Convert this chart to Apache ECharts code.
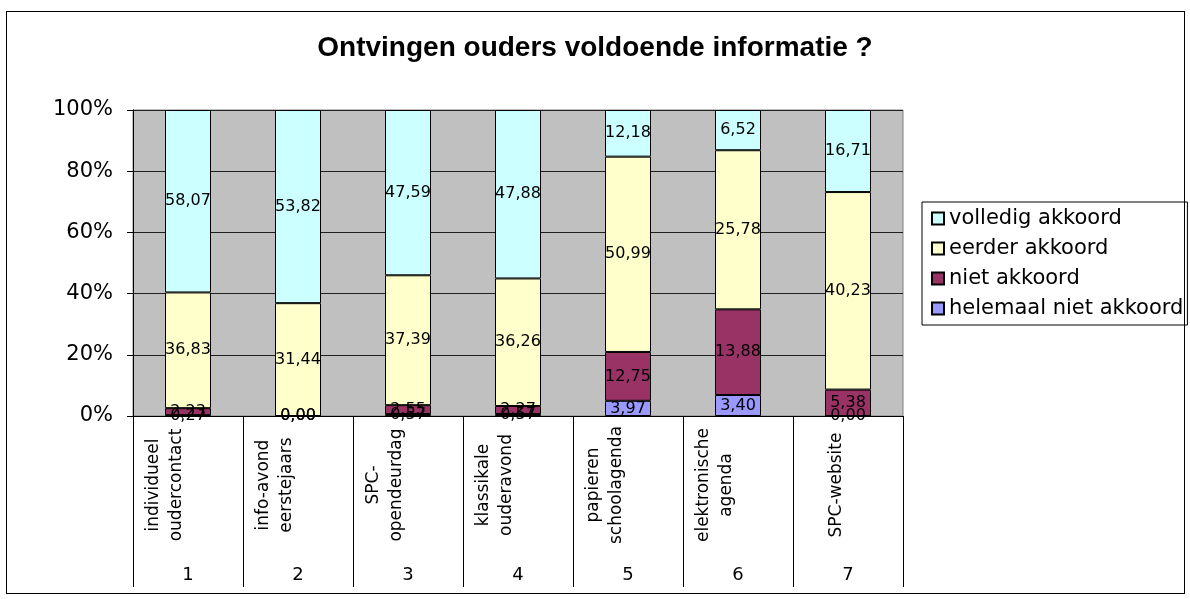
<!DOCTYPE html>
<html>
<head>
<meta charset="utf-8">
<title>Ontvingen ouders voldoende informatie ?</title>
<script src="https://cdn.jsdelivr.net/npm/echarts@6/dist/echarts.min.js"></script>
<style>
  html, body { margin: 0; padding: 0; background: #fff; }
  #wrap { position: relative; width: 1190px; height: 599px; }
  #chart { width: 1190px; height: 599px; }
  .frame {
    position: absolute; left: 6px; top: 11px; width: 1177px; height: 581px;
    border: 1px solid #000; pointer-events: none;
  }
</style>
</head>
<body>
<div id="wrap">
  <div id="chart"></div>
  <div class="frame"></div>
</div>
<script>
  // categorieen (as) en nummers eronder
  var categories = ['individueel\noudercontact', 'info-avond\neerstejaars', 'SPC-\nopendeurdag',
    'klassikale\nouderavond', 'papieren\nschoolagenda', 'elektronische\nagenda', 'SPC-website'];
  var numbers = ['1', '2', '3', '4', '5', '6', '7'];
  var yTicks = [0, 20, 40, 60, 80, 100];

  // waarden per antwoord (zoals in de labels)
  var volledig = [58.07, 53.82, 47.59, 47.88, 12.18, 6.52, 16.71];
  var eerder = [36.83, 31.44, 37.39, 36.26, 50.99, 25.78, 40.23];
  var niet = [2.23, 0.00, 2.55, 2.27, 12.75, 13.88, 5.38];
  var helemaal = [0.27, 0.00, 0.57, 0.57, 3.97, 3.40, 0.00];

  var FONT = 'DejaVu Sans';
  var chart = echarts.init(document.getElementById('chart'));

  // 100% gestapeld: elke kolom omrekenen naar aandeel
  var totals = categories.map(function (c, i) {
    return volledig[i] + eerder[i] + niet[i] + helemaal[i];
  });
  function pct(arr) {
    return arr.map(function (v, i) { return v / totals[i] * 100; });
  }

  function makeSeries(name, raw, color) {
    return {
      name: name,
      type: 'bar',
      stack: 'tot',
      barWidth: 46,
      xAxisIndex: 0,
      data: pct(raw),
      itemStyle: { color: color, borderColor: '#000', borderWidth: 1 },
      label: {
        show: true,
        position: 'inside',
        color: '#000',
        fontFamily: FONT,
        fontSize: 16,
        formatter: function (p) {
          return raw[p.dataIndex].toFixed(2).replace('.', ',');
        }
      }
    };
  }

  var option = {
    backgroundColor: '#fff',
    animation: false,
    title: {
      text: 'Ontvingen ouders voldoende informatie ?',
      left: 590,
      textAlign: 'center',
      top: 29,
      textStyle: { fontFamily: 'Liberation Sans', fontWeight: 'bold', fontSize: 28, color: '#000' }
    },
    legend: {
      orient: 'vertical',
      left: 922,
      top: 202,
      data: ['volledig akkoord', 'eerder akkoord', 'niet akkoord', 'helemaal niet akkoord'],
      icon: 'rect',
      itemWidth: 12,
      itemHeight: 12,
      itemGap: 9,
      padding: [6, 4, 6, 9],
      borderColor: '#000',
      borderWidth: 1,
      textStyle: { fontFamily: FONT, fontSize: 21, color: '#000' }
    },
    grid: {
      left: 133,
      right: 287,
      top: 110,
      bottom: 183,
      show: true,
      backgroundColor: '#c0c0c0',
      borderColor: '#808080',
      borderWidth: 1
    },
    xAxis: [{
      type: 'category',
      data: categories,
      position: 'bottom',
      axisLine: { lineStyle: { color: '#000', width: 1 } },
      axisTick: { show: true, length: 171, lineStyle: { color: '#000' } },
      axisLabel: {
        rotate: 90,
        interval: 0,
        align: 'center',
        verticalAlign: 'bottom',
        margin: 69,
        lineHeight: 23,
        fontFamily: FONT,
        fontSize: 17,
        color: '#000'
      }
    }, {
      type: 'category',
      data: numbers,
      position: 'bottom',
      axisLine: { show: false },
      axisTick: { show: false },
      axisLabel: {
        interval: 0,
        margin: 150,
        fontFamily: FONT,
        fontSize: 18,
        color: '#000'
      }
    }],
    yAxis: {
      type: 'value',
      min: yTicks[0],
      max: yTicks[yTicks.length - 1],
      interval: 20,
      axisLine: { show: true, lineStyle: { color: '#000' } },
      axisTick: { show: true, length: 6, lineStyle: { color: '#000' } },
      axisLabel: {
        formatter: '{value}%',
        margin: 20,
        fontFamily: FONT,
        fontSize: 21,
        color: '#000'
      },
      splitLine: { show: true, lineStyle: { color: '#202020', width: 1 } }
    },
    series: [
      makeSeries('helemaal niet akkoord', helemaal, '#9999ff'),
      makeSeries('niet akkoord', niet, '#993366'),
      makeSeries('eerder akkoord', eerder, '#ffffcc'),
      makeSeries('volledig akkoord', volledig, '#ccffff')
    ]
  };

  chart.setOption(option);
</script>
</body>
</html>
